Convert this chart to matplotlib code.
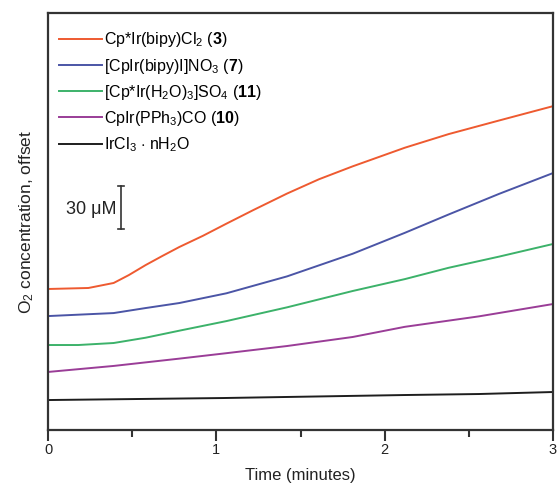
import matplotlib
matplotlib.use("Agg")
import matplotlib.pyplot as plt

plt.rcParams['font.family'] = ['Liberation Sans', 'DejaVu Sans']
plt.rcParams['mathtext.fontset'] = 'custom'
plt.rcParams['mathtext.rm'] = 'Liberation Sans'
plt.rcParams['mathtext.bf'] = 'Liberation Sans:bold'
plt.rcParams['mathtext.it'] = 'Liberation Sans:italic'

# O2 traces (offset, in uM) vs time in minutes
t_red = [0, 0.24, 0.39, 0.48, 0.58, 0.68, 0.78, 0.92, 1.06, 1.22, 1.42, 1.61, 1.81, 2.12, 2.38, 2.68, 3.0]
o2_red = [98.4, 99.1, 102.6, 108.1, 115.1, 121.5, 127.7, 135.5, 144.0, 153.5, 165.0, 175.0, 184.0, 197.0, 206.5, 216.0, 226.0]

t_blue = [0, 0.39, 0.58, 0.78, 1.06, 1.42, 1.81, 2.12, 2.38, 2.68, 3.0]
o2_blue = [79.5, 81.6, 85.1, 88.6, 95.4, 107.2, 123.0, 137.6, 150.4, 164.8, 179.3]

t_green = [0, 0.18, 0.39, 0.58, 0.78, 1.06, 1.42, 1.81, 2.12, 2.38, 2.68, 3.0]
o2_green = [59.3, 59.3, 60.7, 64.4, 69.3, 76.0, 85.6, 97.0, 105.3, 113.2, 121.0, 129.8]

t_purple = [0, 0.39, 0.78, 1.06, 1.42, 1.81, 2.12, 2.56, 3.0]
o2_purple = [40.5, 44.7, 49.8, 53.6, 58.6, 64.9, 72.0, 79.3, 87.9]

t_black = [0, 1.04, 2.12, 2.56, 3.0]
o2_black = [20.9, 22.3, 24.4, 25.1, 26.5]

labels = [r'Cp*Ir(bipy)Cl$_2$ ($\mathbf{3}$)',
          r'[CpIr(bipy)I]NO$_3$ ($\mathbf{7}$)',
          r'[Cp*Ir(H$_2$O)$_3$]SO$_4$ ($\mathbf{11}$)',
          r'CpIr(PPh$_3$)CO ($\mathbf{10}$)',
          r'IrCl$_3$ $\cdot$ nH$_2$O']
colors = ['#ee5a30', '#4b55a6', '#3cb26a', '#9a3d97', '#1e1e1e']

fig = plt.figure(figsize=(5.57, 4.84), dpi=100)
ax = fig.add_axes([0.0862, 0.1116, 0.9066, 0.8615])

series = [(t_red, o2_red), (t_blue, o2_blue), (t_green, o2_green),
          (t_purple, o2_purple), (t_black, o2_black)]
for (t, y), c, lab in zip(series, colors, labels):
    ax.plot(t, y, color=c, lw=1.4, label=lab)

# 30 uM scale bar
ax.plot([0.433, 0.433], [140.2, 170.2], color='#333333', lw=1.2)
ax.plot([0.413, 0.453], [140.2, 140.2], color='#333333', lw=1.2)
ax.plot([0.413, 0.453], [170.2, 170.2], color='#333333', lw=1.2)
ax.text(0.405, 154, '30 \u03bcM', ha='right', va='center', fontsize=13, color='#222222')

ax.set_xlim(0, 3)
ax.set_ylim(0, 291)
ax.set_xticks([0, 1, 2, 3])
ax.set_xticks([0.5, 1.5, 2.5], minor=True)
ax.set_yticks([])
ax.tick_params(axis='x', which='major', length=8, width=1.5, labelsize=10.5, pad=1.5, colors='#333333', labelcolor='#222222')
ax.tick_params(axis='x', which='minor', length=5, width=1.5, colors='#333333')
for s in ax.spines.values():
    s.set_linewidth(1.6)
    s.set_color('#333333')

ax.set_xlabel('Time (minutes)', fontsize=12, color='#222222', labelpad=8)
ax.set_ylabel(r'O$_2$ concentration, offset', fontsize=12.5, color='#222222', labelpad=9)

ax.legend(loc='upper left', frameon=False, fontsize=11.5, handlelength=2.7,
          handletextpad=0.1, labelspacing=0.45, borderaxespad=0.3,
          bbox_to_anchor=(0.0, 0.985))

fig.savefig('out.png', dpi=100)
